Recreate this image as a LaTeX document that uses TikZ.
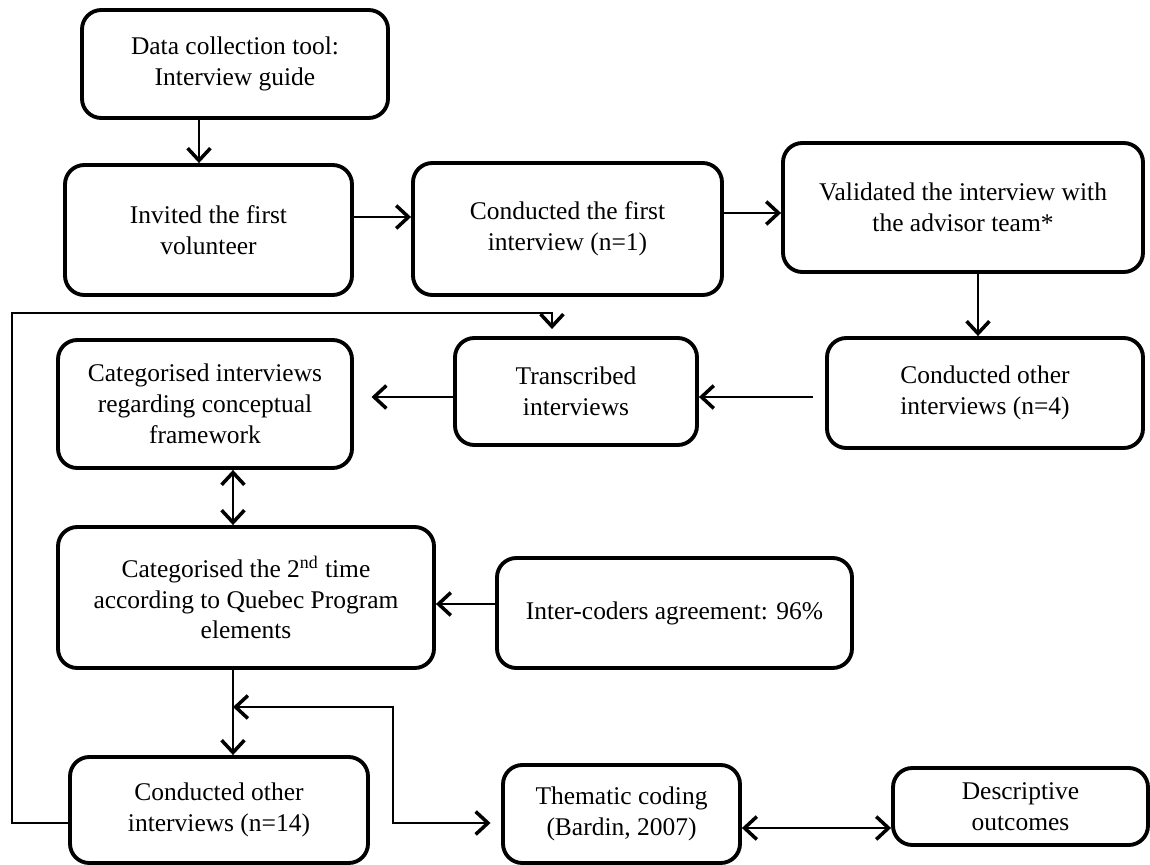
\documentclass[tikz,border=0pt]{standalone}
\usepackage{fontspec}
\setmainfont{Liberation Serif}
\usetikzlibrary{arrows.meta,calc}
\begin{document}
\begin{tikzpicture}[x=0.02cm,y=-0.02cm,
  box/.style={draw, line width=2.2pt, rounded corners=11pt, align=center, inner sep=0pt,
    font=\fontsize{14.5}{17.5}\selectfont},
  sz/.style 2 args={minimum width=#1*0.02cm, minimum height=#2*0.02cm},
  conn/.style={line width=1.1pt},
  tip/.tip={Straight Barb[length=7pt,width=13pt,line width=2pt]},
  arr/.style={conn, -tip},
  darr/.style={conn, tip-tip}]
\useasboundingbox (0,0) rectangle (1150,865);

\node[box, sz={306}{108}] (data) at (235,64) {Data collection tool:\\Interview guide};
\node[box, sz={287}{130}] (invited) at (208.5,230) {Invited the first\\volunteer};
\node[box, sz={309}{132}] (first) at (567.5,229) {Conducted the first\\interview (n=1)};
\node[box, sz={360}{129}] (valid) at (963,207.5) {Validated the interview with\\the advisor team*};
\node[box, sz={316}{110}] (other4) at (985,393) {Conducted other\\interviews (n=4)};
\node[box, sz={242}{107}] (trans) at (576,391.5) {Transcribed\\interviews};
\node[box, sz={294}{128}] (catint) at (205,404) {Categorised interviews\\regarding conceptual\\framework};
\node[box, sz={376}{141}] (cat2) at (246,597.5) {Categorised the 2\textsuperscript{nd} time\\according to Quebec Program\\elements};
\node[box, sz={355}{110}] (inter) at (674.5,613) {Inter-coders agreement: 96\%};
\node[box, sz={298}{106}] (other14) at (219,810) {Conducted other\\interviews (n=14)};
\node[box, sz={237}{98}] (them) at (621.5,814) {Thematic coding\\(Bardin, 2007)};
\node[box, sz={255}{77}] (desc) at (1020.5,806.5) {Descriptive\\outcomes};

\coordinate (xa) at (199,0);
\coordinate (ya) at (0,217);
\coordinate (yb) at (0,213);
\coordinate (xc) at (978,0);
\coordinate (yd) at (0,397);
\coordinate (xe) at (233,0);
\coordinate (yf) at (0,604);
\coordinate (jn) at (233,707);
\coordinate (kn) at (393,707);
\coordinate (yg) at (0,823);
\coordinate (yh) at (0,828);
\coordinate (lp) at (12,313);
\coordinate (xt) at (552,0);

\draw[arr] (data.south -| xa) -- (invited.north -| xa);
\draw[arr] (invited.east |- ya) -- (first.west |- ya);
\draw[arr] (first.east |- yb) -- (valid.west |- yb);
\draw[arr] (valid.south -| xc) -- (other4.north -| xc);
\draw[arr] ([xshift=-6.8pt]other4.west |- yd) -- (trans.east |- yd);
\draw[arr, shorten >=10pt] (trans.west |- yd) -- (catint.east |- yd);
\draw[darr] (catint.south -| xe) -- (cat2.north -| xe);
\draw[arr] (inter.west |- yf) -- (cat2.east |- yf);
\draw[arr] (cat2.south -| xe) -- (other14.north -| xe);
\draw[darr, shorten >=6pt] (jn) -- (kn) |- (them.west |- yg);
\draw[darr] (them.east |- yh) -- (desc.west |- yh);
\draw[arr, shorten >=4pt] (other14.west |- yg) -| (lp) -| (trans.north -| xt);
\end{tikzpicture}
\end{document}
